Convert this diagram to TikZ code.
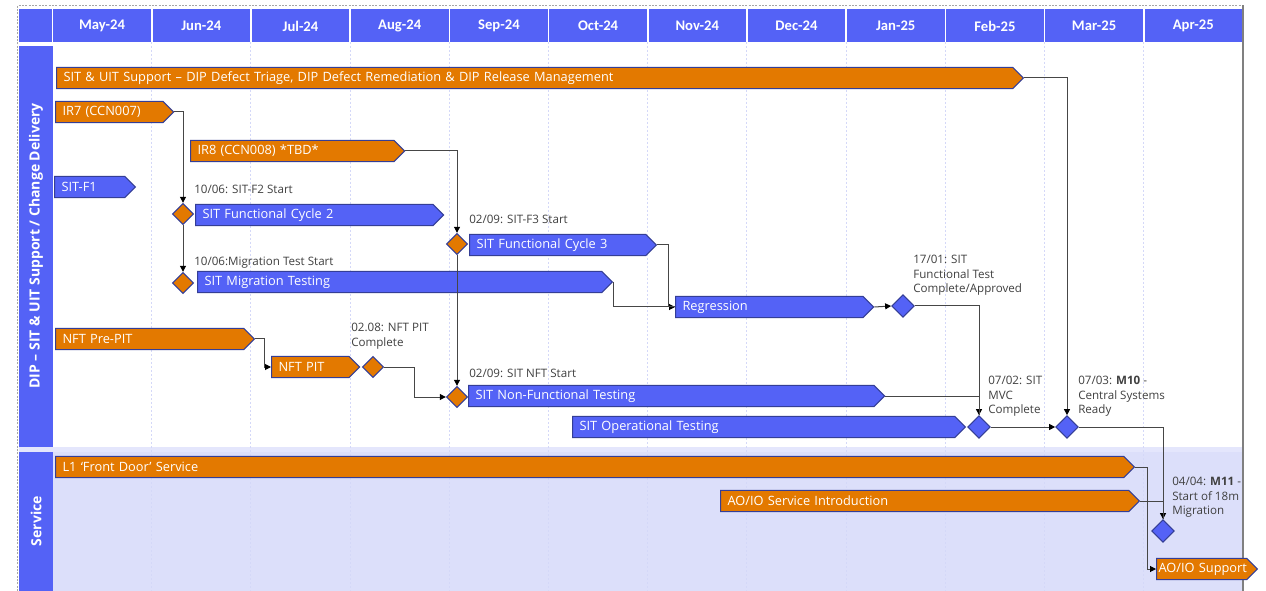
\documentclass[tikz,border=0pt]{standalone}
\usepackage{fontspec}
\setmainfont{Open Sans}
\newfontfamily\hdrfont{Carlito}
\usetikzlibrary{arrows.meta,shapes.geometric,shapes.symbols}

\definecolor{hdrblue}{RGB}{84,98,246}
\definecolor{barorange}{RGB}{227,121,0}
\definecolor{barline}{RGB}{52,62,150}
\definecolor{svcfill}{RGB}{220,223,250}
\definecolor{gapblue}{RGB}{228,230,252}
\definecolor{gridblue}{RGB}{212,216,248}
\definecolor{linkgray}{RGB}{70,70,70}
\definecolor{notegray}{RGB}{64,64,64}

\tikzset{
	task/.style={
			signal, signal to=east, signal from=nowhere, signal pointer angle=90,
			anchor=west, draw=barline, line width=0.8pt, minimum height=16pt,
			inner xsep=5.25pt, inner ysep=0pt, align=left, text=white,
			font=\fontsize{9.6}{11}\selectfont
		},
	bluetask/.style={task, fill=hdrblue},
	orangetask/.style={task, fill=barorange},
	stone/.style={
			diamond, aspect=1, inner sep=0pt, minimum size=16pt,
			draw=barline, line width=0.8pt
		},
	bluestone/.style={stone, fill=hdrblue, minimum size=17pt},
	orangestone/.style={stone, fill=barorange},
	note/.style={
			anchor=north west, inner sep=0pt, align=left, text=notegray,
			font=\fontsize{8.7}{10.9}\selectfont
		},
	monthlabel/.style={text=white, font=\hdrfont\bfseries\fontsize{11}{12}\selectfont},
	lanelabel/.style={rotate=90, text=white, font=\bfseries\fontsize{10.5}{12}\selectfont},
	gridline/.style={draw=gridblue, line width=0.75pt, dash pattern=on 1.5pt off 1.5pt},
	link/.style={draw=linkgray, line width=0.75pt},
	flow/.style={link, -{Triangle[length=4.5pt, width=4.5pt, color=black]}}
}

\begin{document}
\begin{tikzpicture}[x=0.75pt, y=-0.75pt]
	\useasboundingbox (0,0) rectangle (1266,591);

	% lanes and calendar
	\fill[white] (0,0) rectangle (1266,591);
	\fill[svcfill] (52.5,450) rectangle (1242,591);
	\fill[gapblue] (18.5,446.5) rectangle (1242,451.5);
	\foreach \i in {1,...,11}
		\draw[gridline] ({52.5+99.2*\i},42) -- ({52.5+99.2*\i},591);
	\fill[hdrblue] (18.5,9) rectangle (1242,42);
	\fill[hdrblue] (18.5,46) rectangle (52.5,447);
	\fill[hdrblue] (18.5,452) rectangle (52.5,591);
	\foreach \i in {0,...,11}
		\draw[white, line width=1.2pt] ({52.5+99.2*\i},9) -- ({52.5+99.2*\i},42);
	\foreach \m [count=\i] in {May-24,Jun-24,Jul-24,Aug-24,Sep-24,Oct-24,Nov-24,Dec-24,Jan-25,Feb-25,Mar-25,Apr-25}
		\node[monthlabel] (month\i) at ({52.5+99.2*(\i-0.5)},26) {\m};
	\draw[gray!70, line width=0.75pt, dash pattern=on 1.5pt off 1pt] (17.5,591) -- (17.5,5.5) -- (1243,5.5);
	\draw[gray, line width=1.5pt] (1243,5.5) -- (1243,591);

	\node[lanelabel] (lanedip) at (36,246) {DIP – SIT \& UIT Support / Change Delivery};
	\node[lanelabel] (laneservice) at (36,521) {Service};

	% tasks
	\node[orangetask, text width=706.7pt] (support) at (56,78) {SIT \& UIT Support – DIP Defect Triage, DIP Defect Remediation \& DIP Release Management};
	\node[orangetask, text width=70pt] (ir7) at (55,112) {IR7 (CCN007)};
	\node[orangetask, text width=142pt] (ir8) at (190,151) {IR8 (CCN008) *TBD*};
	\node[bluetask, text width=42.2pt] (sitfone) at (54,187) {SIT-F1};
	\node[bluetask, text width=167.5pt] (cycle2) at (195,215) {SIT Functional Cycle 2};
	\node[bluetask, text width=121.7pt] (cycle3) at (469,245) {SIT Functional Cycle 3};
	\node[bluetask, text width=292.7pt] (migration) at (197,282) {SIT Migration Testing};
	\node[bluetask, text width=130pt] (regression) at (675,307) {Regression};
	\node[orangetask, text width=130.7pt] (prepit) at (55,339) {NFT Pre-PIT};
	\node[orangetask, text width=47.5pt] (pit) at (271,367) {NFT PIT};
	\node[bluetask, text width=293.5pt] (nfttest) at (468,396) {SIT Non-Functional Testing};
	\node[bluetask, text width=276.2pt] (optest) at (572,427) {SIT Operational Testing};
	\node[orangetask, text width=790.7pt] (frontdoor) at (55,467) {L1 ‘Front Door’ Service};
	\node[orangetask, text width=295.7pt] (aointro) at (720,501) {AO/IO Service Introduction};
	\node[orangetask, inner xsep=1.5pt, text width=64.7pt] (aosupport) at (1156,569) {\mbox{AO/IO Support}};

	% milestones
	\node[orangestone] (f2start) at (183,214) {};
	\node[orangestone] (migstart) at (183,283) {};
	\node[orangestone] (f3start) at (457,244) {};
	\node[orangestone] (pitdone) at (373,367) {};
	\node[orangestone] (nftstart) at (457,397) {};
	\node[bluestone] (ftdone) at (903,306) {};
	\node[bluestone] (mvcdone) at (979,427) {};
	\node[bluestone] (mten) at (1067,427) {};
	\node[bluestone] (meleven) at (1163,531) {};

	\node[note] (f2note) at (194,185) {10/06: SIT-F2 Start};
	\node[note] (mignote) at (194,257) {10/06:Migration Test Start};
	\node[note] (f3note) at (469,215) {02/09: SIT-F3 Start};
	\node[note] (pitnote) at (351,323) {02.08: NFT PIT\\Complete};
	\node[note] (nftnote) at (469,369) {02/09: SIT NFT Start};
	\node[note] (ftnote) at (913,255) {17/01: SIT\\Functional Test\\Complete/Approved};
	\node[note] (mvcnote) at (988,376) {07/02: SIT\\MVC\\Complete};
	\node[note] (mtennote) at (1078,376) {07/03: \textbf{M10} -\\Central Systems\\Ready};
	\node[note] (melevennote) at (1172,477) {04/04: \textbf{M11} -\\Start of 18m\\Migration};

	% dependencies
	\draw[flow] (ir7.east) -| (f2start.north);
	\draw[flow] (f2start.south) -- (migstart.north);
	\draw[flow] (ir8.east) -| (f3start.north);
	\draw[flow] (f3start.south) -- (nftstart.north);
	\draw[flow] (prepit.east) -- ++(9,0) |- (pit.west);
	\draw[flow] (pitdone.east) -- ++(30,0) |- (nftstart.west);
	\draw[flow] (cycle3.east) -- ++(11,0) |- (regression.west);
	\draw[link] (migration.east) |- (regression.west);
	\draw[flow] (regression.east) -- (ftdone.west);
	\draw[flow] (ftdone.east) -| (mvcdone.north);
	\draw[link] (nfttest.east) -| (mvcdone.north);
	\draw[flow] (mvcdone.east) -- (mten.west);
	\draw[flow] (support.east) -| (mten.north);
	\draw[flow] (mten.east) -| (meleven.north);
	\draw[link] (aointro.east) -| (meleven.north);
	\draw[flow] (frontdoor.east) -- ++(12,0) |- (aosupport.west);
\end{tikzpicture}
\end{document}
